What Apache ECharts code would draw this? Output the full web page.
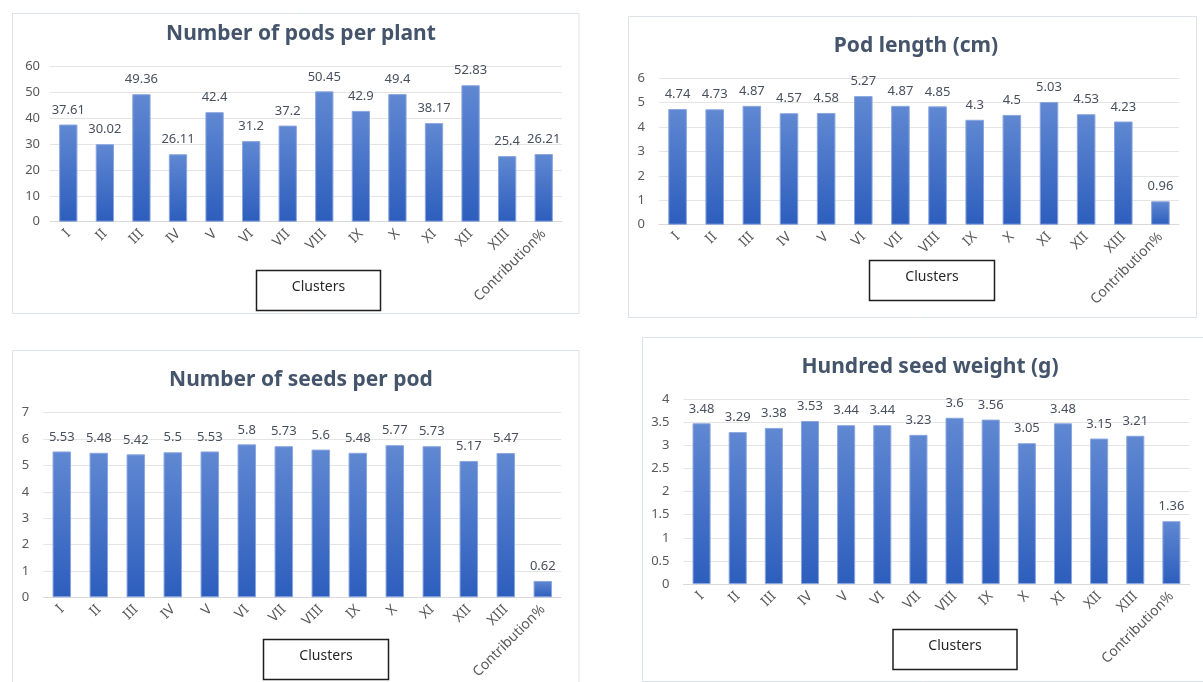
<!DOCTYPE html>
<html>
<head>
<meta charset="utf-8">
<script src="https://cdn.jsdelivr.net/npm/echarts@6/dist/echarts.min.js"></script>
<style>
  html, body { margin: 0; padding: 0; background: #fff; }
  #main { width: 1203px; height: 682px; }
</style>
</head>
<body>
<div id="main"></div>
<script>
// Categories (clusters) shared by all four panels
const categories = ['I', 'II', 'III', 'IV', 'V', 'VI', 'VII', 'VIII', 'IX', 'X', 'XI', 'XII', 'XIII', 'Contribution%'];

// Values per panel
const podsPerPlant = [37.61, 30.02, 49.36, 26.11, 42.4, 31.2, 37.2, 50.45, 42.9, 49.4, 38.17, 52.83, 25.4, 26.21];
const podLength = [4.74, 4.73, 4.87, 4.57, 4.58, 5.27, 4.87, 4.85, 4.3, 4.5, 5.03, 4.53, 4.23, 0.96];
const seedsPerPod = [5.53, 5.48, 5.42, 5.5, 5.53, 5.8, 5.73, 5.6, 5.48, 5.77, 5.73, 5.17, 5.47, 0.62];
const seedWeight = [3.48, 3.29, 3.38, 3.53, 3.44, 3.44, 3.23, 3.6, 3.56, 3.05, 3.48, 3.15, 3.21, 1.36];

// Panel titles and y-axis scales
const titles = ['Number of pods per plant', 'Pod length (cm)', 'Number of seeds per pod', 'Hundred seed weight (g)'];
const yMax = [60, 6, 7, 4];
const yStep = [10, 1, 1, 0.5];

let myChart = echarts.init(document.getElementById('main'));

const FONT = 'Noto Sans';

// Layout of each panel: frame, title, grid, and the "Clusters" box
const panels = [
    { frame: [12.5, 13.5, 566.5, 300], title: [296, 19], grid: [50, 66.7, 512, 155], box: [256.5, 270.5, 124, 40] },
    { frame: [628.5, 16.5, 568, 301], title: [911, 31], grid: [659, 78.3, 520, 146.4], box: [869.5, 260.5, 125, 40] },
    { frame: [12.5, 350.5, 566.5, 340], title: [296, 365], grid: [43.3, 412.7, 518, 184.6], box: [263.5, 639.5, 125, 40] },
    { frame: [642.5, 337.5, 570, 344], title: [925, 352], grid: [683.5, 399.3, 506, 184.7], box: [893, 629.5, 124, 40] }
];

const dataSets = [podsPerPlant, podLength, seedsPerPod, seedWeight];

const barColor = new echarts.graphic.LinearGradient(0, 0, 0, 1, [
    { offset: 0, color: '#6088d2' },
    { offset: 1, color: '#2d5ebd' }
]);

let graphics = [];
panels.forEach((p) => {
    // panel frame
    graphics.push({
        type: 'rect',
        silent: true,
        z: -10,
        shape: { x: p.frame[0], y: p.frame[1], width: p.frame[2], height: p.frame[3] },
        style: { fill: '#fff', stroke: '#dde1e8', lineWidth: 1 }
    });
    // "Clusters" text box
    graphics.push({
        type: 'rect',
        silent: true,
        shape: { x: p.box[0], y: p.box[1], width: p.box[2], height: p.box[3] },
        style: { fill: '#fff', stroke: '#1e1e1e', lineWidth: 1.5 }
    });
    graphics.push({
        type: 'text',
        silent: true,
        x: p.box[0] + p.box[2] / 2,
        y: p.box[1] + p.box[3] / 2 - 3,
        style: {
            text: 'Clusters',
            fill: '#262626',
            font: '14px "Noto Sans"',
            align: 'center',
            verticalAlign: 'middle'
        }
    });
});

let option = {
    animation: false,
    backgroundColor: '#fff',
    title: panels.map((p, i) => ({
        text: titles[i],
        left: p.title[0],
        top: p.title[1],
        textAlign: 'center',
        textStyle: {
            fontFamily: FONT,
            fontSize: 21,
            fontWeight: 'bold',
            color: '#44546a'
        }
    })),
    graphic: graphics,
    // keep grids exactly where they are placed, even if labels run past the edge
    grid: panels.map((p) => ({
        left: p.grid[0],
        top: p.grid[1],
        width: p.grid[2],
        height: p.grid[3],
        containLabel: false,
        outerBoundsMode: 'none'
    })),
    xAxis: panels.map((p, i) => ({
        type: 'category',
        gridIndex: i,
        data: categories,
        axisTick: { show: false },
        axisLine: { show: true, lineStyle: { color: '#d9d9d9', width: 1 } },
        axisLabel: {
            interval: 0,
            rotate: 45,
            margin: 10,
            color: '#595959',
            fontFamily: FONT,
            fontSize: 14
        }
    })),
    yAxis: panels.map((p, i) => ({
        type: 'value',
        gridIndex: i,
        min: 0,
        max: yMax[i],
        interval: yStep[i],
        axisLine: { show: false },
        axisTick: { show: false },
        splitLine: { show: true, lineStyle: { color: '#e4e4e4', width: 1 } },
        axisLabel: {
            margin: i === 0 ? 10 : 14,
            color: '#595959',
            fontFamily: FONT,
            fontSize: 13
        }
    })),
    series: dataSets.map((d, i) => ({
        type: 'bar',
        xAxisIndex: i,
        yAxisIndex: i,
        barWidth: '50%',
        itemStyle: {
            color: barColor,
            borderColor: '#8aa6de',
            borderWidth: 1
        },
        label: {
            show: true,
            position: 'top',
            distance: 8,
            color: '#48505e',
            fontFamily: FONT,
            fontSize: 13
        },
        data: d
    }))
};

option && myChart.setOption(option);
</script>
</body>
</html>
